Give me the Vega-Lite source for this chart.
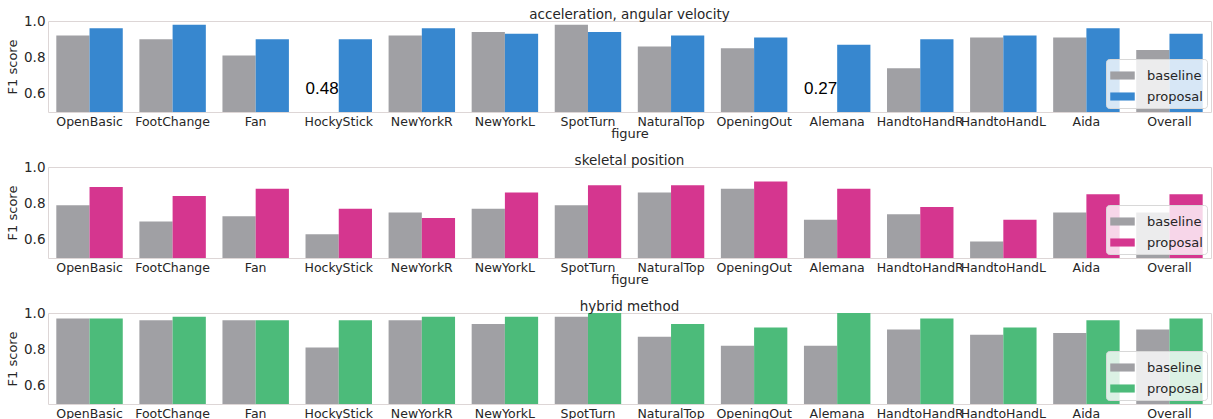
{
  "$schema": "https://vega.github.io/schema/vega-lite/v6.json",
  "background": "white",
  "padding": {"left": 6, "top": 7, "right": 0, "bottom": 0},
  "spacing": 12,
  "config": {
    "font": "DejaVu Sans",
    "view": {"stroke": "#ddd6d6", "strokeWidth": 1},
    "axis": {"labelFontSize": 12.5, "titleFontSize": 13, "labelColor": "#262626", "titleColor": "#262626", "titleFontWeight": "normal", "ticks": false, "domain": false, "grid": false, "labelPadding": 3},
    "axisY": {"labelFontSize": 13.5},
    "title": {"fontSize": 13.5, "fontWeight": "normal", "color": "#262626", "offset": -7},
    "legend": {"orient": "bottom-right", "offset": 4, "fillColor": "rgba(255,255,255,0.8)", "strokeColor": "#d8d8d8", "cornerRadius": 3, "padding": 4, "labelFontSize": 13, "labelColor": "#262626", "symbolType": "M-1,-0.33H1V0.33H-1Z", "symbolSize": 600, "symbolStrokeWidth": 0, "symbolOpacity": 1, "labelOffset": 12, "rowPadding": 1}
  },
  "datasets": {
    "acc": [
      {"figure": "OpenBasic", "method": "baseline", "score": 0.92}, {"figure": "OpenBasic", "method": "proposal", "score": 0.96},
      {"figure": "FootChange", "method": "baseline", "score": 0.90}, {"figure": "FootChange", "method": "proposal", "score": 0.98},
      {"figure": "Fan", "method": "baseline", "score": 0.81}, {"figure": "Fan", "method": "proposal", "score": 0.90},
      {"figure": "HockyStick", "method": "baseline", "score": 0.48}, {"figure": "HockyStick", "method": "proposal", "score": 0.90},
      {"figure": "NewYorkR", "method": "baseline", "score": 0.92}, {"figure": "NewYorkR", "method": "proposal", "score": 0.96},
      {"figure": "NewYorkL", "method": "baseline", "score": 0.94}, {"figure": "NewYorkL", "method": "proposal", "score": 0.93},
      {"figure": "SpotTurn", "method": "baseline", "score": 0.98}, {"figure": "SpotTurn", "method": "proposal", "score": 0.94},
      {"figure": "NaturalTop", "method": "baseline", "score": 0.86}, {"figure": "NaturalTop", "method": "proposal", "score": 0.92},
      {"figure": "OpeningOut", "method": "baseline", "score": 0.85}, {"figure": "OpeningOut", "method": "proposal", "score": 0.91},
      {"figure": "Alemana", "method": "baseline", "score": 0.27}, {"figure": "Alemana", "method": "proposal", "score": 0.87},
      {"figure": "HandtoHandR", "method": "baseline", "score": 0.74}, {"figure": "HandtoHandR", "method": "proposal", "score": 0.90},
      {"figure": "HandtoHandL", "method": "baseline", "score": 0.91}, {"figure": "HandtoHandL", "method": "proposal", "score": 0.92},
      {"figure": "Aida", "method": "baseline", "score": 0.91}, {"figure": "Aida", "method": "proposal", "score": 0.96},
      {"figure": "Overall", "method": "baseline", "score": 0.84}, {"figure": "Overall", "method": "proposal", "score": 0.93}
    ],
    "skel": [
      {"figure": "OpenBasic", "method": "baseline", "score": 0.79}, {"figure": "OpenBasic", "method": "proposal", "score": 0.89},
      {"figure": "FootChange", "method": "baseline", "score": 0.70}, {"figure": "FootChange", "method": "proposal", "score": 0.84},
      {"figure": "Fan", "method": "baseline", "score": 0.73}, {"figure": "Fan", "method": "proposal", "score": 0.88},
      {"figure": "HockyStick", "method": "baseline", "score": 0.63}, {"figure": "HockyStick", "method": "proposal", "score": 0.77},
      {"figure": "NewYorkR", "method": "baseline", "score": 0.75}, {"figure": "NewYorkR", "method": "proposal", "score": 0.72},
      {"figure": "NewYorkL", "method": "baseline", "score": 0.77}, {"figure": "NewYorkL", "method": "proposal", "score": 0.86},
      {"figure": "SpotTurn", "method": "baseline", "score": 0.79}, {"figure": "SpotTurn", "method": "proposal", "score": 0.90},
      {"figure": "NaturalTop", "method": "baseline", "score": 0.86}, {"figure": "NaturalTop", "method": "proposal", "score": 0.90},
      {"figure": "OpeningOut", "method": "baseline", "score": 0.88}, {"figure": "OpeningOut", "method": "proposal", "score": 0.92},
      {"figure": "Alemana", "method": "baseline", "score": 0.71}, {"figure": "Alemana", "method": "proposal", "score": 0.88},
      {"figure": "HandtoHandR", "method": "baseline", "score": 0.74}, {"figure": "HandtoHandR", "method": "proposal", "score": 0.78},
      {"figure": "HandtoHandL", "method": "baseline", "score": 0.59}, {"figure": "HandtoHandL", "method": "proposal", "score": 0.71},
      {"figure": "Aida", "method": "baseline", "score": 0.75}, {"figure": "Aida", "method": "proposal", "score": 0.85},
      {"figure": "Overall", "method": "baseline", "score": 0.75}, {"figure": "Overall", "method": "proposal", "score": 0.85}
    ],
    "hyb": [
      {"figure": "OpenBasic", "method": "baseline", "score": 0.97}, {"figure": "OpenBasic", "method": "proposal", "score": 0.97},
      {"figure": "FootChange", "method": "baseline", "score": 0.96}, {"figure": "FootChange", "method": "proposal", "score": 0.98},
      {"figure": "Fan", "method": "baseline", "score": 0.96}, {"figure": "Fan", "method": "proposal", "score": 0.96},
      {"figure": "HockyStick", "method": "baseline", "score": 0.81}, {"figure": "HockyStick", "method": "proposal", "score": 0.96},
      {"figure": "NewYorkR", "method": "baseline", "score": 0.96}, {"figure": "NewYorkR", "method": "proposal", "score": 0.98},
      {"figure": "NewYorkL", "method": "baseline", "score": 0.94}, {"figure": "NewYorkL", "method": "proposal", "score": 0.98},
      {"figure": "SpotTurn", "method": "baseline", "score": 0.98}, {"figure": "SpotTurn", "method": "proposal", "score": 1.00},
      {"figure": "NaturalTop", "method": "baseline", "score": 0.87}, {"figure": "NaturalTop", "method": "proposal", "score": 0.94},
      {"figure": "OpeningOut", "method": "baseline", "score": 0.82}, {"figure": "OpeningOut", "method": "proposal", "score": 0.92},
      {"figure": "Alemana", "method": "baseline", "score": 0.82}, {"figure": "Alemana", "method": "proposal", "score": 1.00},
      {"figure": "HandtoHandR", "method": "baseline", "score": 0.91}, {"figure": "HandtoHandR", "method": "proposal", "score": 0.97},
      {"figure": "HandtoHandL", "method": "baseline", "score": 0.88}, {"figure": "HandtoHandL", "method": "proposal", "score": 0.92},
      {"figure": "Aida", "method": "baseline", "score": 0.89}, {"figure": "Aida", "method": "proposal", "score": 0.96},
      {"figure": "Overall", "method": "baseline", "score": 0.91}, {"figure": "Overall", "method": "proposal", "score": 0.97}
    ]
  },
  "resolve": {"scale": {"color": "independent"}, "legend": {"color": "independent"}},
  "vconcat": [
    {
      "title": "acceleration, angular velocity",
      "width": 1163, "height": 91,
      "data": {"name": "acc"},
      "layer": [
        {
          "mark": {"type": "bar", "clip": true, "opacity": 1},
          "encoding": {
            "x": {"field": "figure", "type": "nominal", "sort": ["OpenBasic","FootChange","Fan","HockyStick","NewYorkR","NewYorkL","SpotTurn","NaturalTop","OpeningOut","Alemana","HandtoHandR","HandtoHandL","Aida","Overall"], "scale": {"paddingInner": 0.2, "paddingOuter": 0.1}, "axis": {"labelAngle": 0, "labelOverlap": false, "title": "figure", "titlePadding": 0}},
            "xOffset": {"field": "method", "type": "nominal", "sort": ["baseline", "proposal"], "scale": {"paddingInner": 0, "paddingOuter": 0}},
            "y": {"field": "score", "type": "quantitative", "stack": null, "scale": {"domain": [0.5, 1.0], "zero": false, "nice": false}, "axis": {"values": [0.6, 0.8, 1.0], "format": ".1f", "title": "F1 score", "titlePadding": 4}},
            "color": {"field": "method", "type": "nominal", "scale": {"domain": ["baseline", "proposal"], "range": ["#a0a0a4", "#3787cf"]}, "legend": {"title": null}}
          }
        },
        {
          "transform": [{"filter": "datum.score < 0.5"}],
          "mark": {"type": "text", "font": "Liberation Sans", "fontSize": 17, "color": "black"},
          "encoding": {
            "x": {"field": "figure", "type": "nominal", "sort": ["OpenBasic","FootChange","Fan","HockyStick","NewYorkR","NewYorkL","SpotTurn","NaturalTop","OpeningOut","Alemana","HandtoHandR","HandtoHandL","Aida","Overall"]},
            "xOffset": {"field": "method", "type": "nominal", "sort": ["baseline", "proposal"]},
            "y": {"datum": 0.625},
            "text": {"field": "score", "type": "quantitative", "format": ".2f"}
          }
        }
      ]
    },
    {
      "title": "skeletal position",
      "width": 1163, "height": 91,
      "data": {"name": "skel"},
      "mark": {"type": "bar", "clip": true, "opacity": 1},
      "encoding": {
        "x": {"field": "figure", "type": "nominal", "sort": ["OpenBasic","FootChange","Fan","HockyStick","NewYorkR","NewYorkL","SpotTurn","NaturalTop","OpeningOut","Alemana","HandtoHandR","HandtoHandL","Aida","Overall"], "scale": {"paddingInner": 0.2, "paddingOuter": 0.1}, "axis": {"labelAngle": 0, "labelOverlap": false, "title": "figure", "titlePadding": 0}},
        "xOffset": {"field": "method", "type": "nominal", "sort": ["baseline", "proposal"], "scale": {"paddingInner": 0, "paddingOuter": 0}},
        "y": {"field": "score", "type": "quantitative", "stack": null, "scale": {"domain": [0.5, 1.0], "zero": false, "nice": false}, "axis": {"values": [0.6, 0.8, 1.0], "format": ".1f", "title": "F1 score", "titlePadding": 4}},
        "color": {"field": "method", "type": "nominal", "scale": {"domain": ["baseline", "proposal"], "range": ["#a0a0a4", "#d5368f"]}, "legend": {"title": null}}
      }
    },
    {
      "title": "hybrid method",
      "width": 1163, "height": 91,
      "data": {"name": "hyb"},
      "mark": {"type": "bar", "clip": true, "opacity": 1},
      "encoding": {
        "x": {"field": "figure", "type": "nominal", "sort": ["OpenBasic","FootChange","Fan","HockyStick","NewYorkR","NewYorkL","SpotTurn","NaturalTop","OpeningOut","Alemana","HandtoHandR","HandtoHandL","Aida","Overall"], "scale": {"paddingInner": 0.2, "paddingOuter": 0.1}, "axis": {"labelAngle": 0, "labelOverlap": false, "title": "figure", "titlePadding": 0}},
        "xOffset": {"field": "method", "type": "nominal", "sort": ["baseline", "proposal"], "scale": {"paddingInner": 0, "paddingOuter": 0}},
        "y": {"field": "score", "type": "quantitative", "stack": null, "scale": {"domain": [0.5, 1.0], "zero": false, "nice": false}, "axis": {"values": [0.6, 0.8, 1.0], "format": ".1f", "title": "F1 score", "titlePadding": 4}},
        "color": {"field": "method", "type": "nominal", "scale": {"domain": ["baseline", "proposal"], "range": ["#a0a0a4", "#4cbb7a"]}, "legend": {"title": null}}
      }
    }
  ]
}
